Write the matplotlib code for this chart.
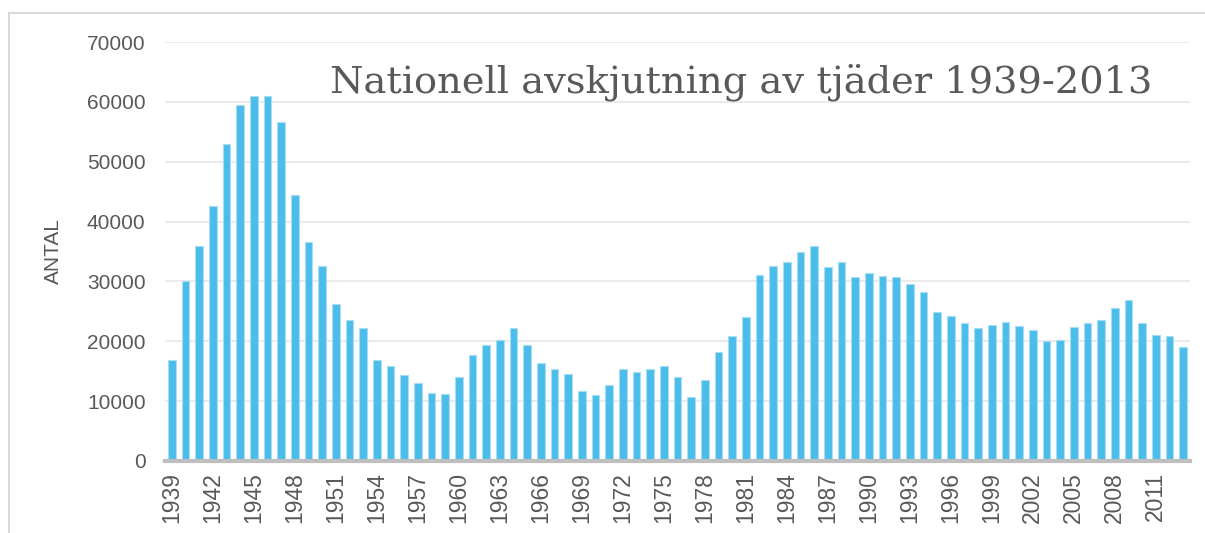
import matplotlib
matplotlib.use('Agg')
import matplotlib.pyplot as plt
from matplotlib.lines import Line2D

# Data
years = list(range(1939, 2014))
antal = [16900, 30000, 35900, 42600, 53000, 59400, 61000, 60900, 56600, 44400,
         36600, 32500, 26300, 23600, 22300, 16900, 15900, 14400, 13000, 11300,
         11200, 14100, 17700, 19400, 20200, 22200, 19400, 16400, 15350, 14600,
         11650, 11100, 12700, 15350, 14900, 15450, 15850, 14050, 10750, 13600,
         18200, 20900, 24100, 31100, 32650, 33300, 34850, 35850, 32450, 33300,
         30700, 31400, 30900, 30800, 29600, 28200, 24900, 24150, 23100, 22200,
         22700, 23250, 22500, 21900, 20050, 20200, 22400, 23100, 23500, 25500,
         26850, 23000, 21050, 20900, 19100]
yticks = [0, 10000, 20000, 30000, 40000, 50000, 60000, 70000]
title = "Nationell avskjutning av tjäder 1939-2013"

text_col = '#595959'

fig = plt.figure(figsize=(12.05, 5.33), dpi=100)
ax = fig.add_axes([165 / 1205, 72 / 533, 1025 / 1205, 419 / 533])

x = list(range(len(years)))
ax.bar(x, antal, width=0.54, color='#4BBDEA', edgecolor='#A9DDF3', linewidth=0.8, zorder=3)

ax.set_xlim(-0.5, len(years) - 0.5)
ax.set_ylim(0, 70000)
ax.set_yticks(yticks)
ax.set_yticklabels([str(v) for v in yticks], fontsize=15, color=text_col,
                   family='Liberation Sans')
ax.set_xticks(x[::3])
ax.set_xticklabels([str(y) for y in years[::3]], rotation=90, fontsize=16.5,
                   color=text_col, family='Liberation Sans')
ax.tick_params(axis='both', length=0, pad=14)
ax.tick_params(axis='x', pad=8)
ax.grid(axis='y', color='#EBEBEB', linewidth=1.5, zorder=0)

for s in ['top', 'right', 'left']:
    ax.spines[s].set_visible(False)
ax.spines['bottom'].set_color('#BFBFBF')
ax.spines['bottom'].set_linewidth(3)
ax.spines['bottom'].set_zorder(4)

ax.set_ylabel('ANTAL', fontsize=15, color=text_col, family='Liberation Sans')
ax.yaxis.set_label_coords(-0.1, 0.5)

ax.text(0.161, 0.905, title, transform=ax.transAxes, fontsize=27.6,
        family='DejaVu Serif', color=text_col, va='center', ha='left')

# outer chart frame (top and left edges visible)
fig.add_artist(Line2D([9 / 1205, 9 / 1205], [0, 1 - 13 / 533], transform=fig.transFigure,
                      color='#D9D9D9', linewidth=1.5))
fig.add_artist(Line2D([9 / 1205, 1], [1 - 13 / 533, 1 - 13 / 533], transform=fig.transFigure,
                      color='#D9D9D9', linewidth=1.5))

fig.savefig('out.png', dpi=100)
